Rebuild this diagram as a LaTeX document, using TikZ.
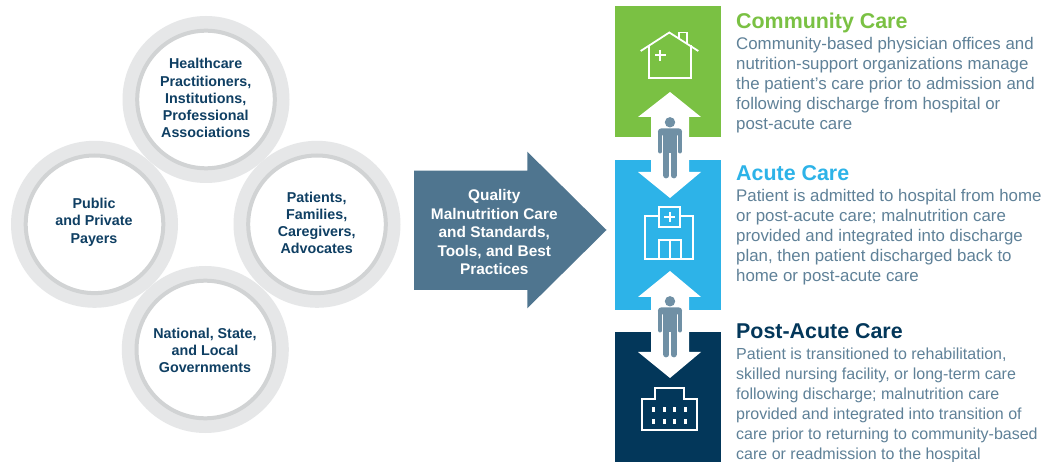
\documentclass[tikz,border=0pt]{standalone}
\usepackage{fontspec}
\setmainfont{Liberation Sans}
\definecolor{cgreen}{HTML}{7AC143}
\definecolor{cblue}{HTML}{2DB3E8}
\definecolor{cnavy}{HTML}{03375A}
\definecolor{carrow}{HTML}{4F758F}
\definecolor{cperson}{HTML}{7090A5}
\definecolor{cbody}{HTML}{5F8198}
\definecolor{ctitle}{HTML}{0F3F63}
\definecolor{chalo}{HTML}{E6E7E8}
\definecolor{cring}{HTML}{D1D3D4}
\tikzset{x=1pt,y=-1pt,
 halo/.style={circle,fill=chalo,minimum size=167pt,inner sep=0pt},
 ringc/.style={circle,fill=white,draw=cring,line width=4pt,minimum size=137.6pt,inner sep=0pt},
 ctext/.style={align=center,inner sep=0pt,text=ctitle,font=\fontsize{14.3}{17.1}\selectfont\bfseries},
 head/.style={anchor=base west,inner sep=0pt,font=\fontsize{21.4}{24}\selectfont\bfseries},
 body/.style={anchor=north west,inner sep=0pt,align=left,text=cbody,font=\fontsize{16.85}{20}\selectfont},
 bodytwo/.style={body,font=\fontsize{16}{20}\selectfont},
 icon/.style={draw=white,line width=1.8pt,fill=none},
 cross/.style={draw=white,line width=2pt},
 man/.style={fill=cperson,draw=none},
 manline/.style={draw=cperson,line cap=round}}
\newcommand{\person}[2]{%
 \begin{scope}[shift={(#1,#2)}]
  \fill[man] (0,-6) circle (5.2);
  \fill[man,rounded corners=3.5pt] (-12.1,7) -- (-12.1,0) -- (12.1,0) -- (12.1,7) -- cycle;
  \fill[man] (-6.8,1) rectangle (6.8,25);
  \draw[manline,line width=4.4pt] (-9.9,4) -- (-9.9,23) (9.9,4) -- (9.9,23);
  \draw[manline,line width=6.2pt] (-3.7,20) -- (-3.7,47) (3.7,20) -- (3.7,47);
 \end{scope}}
\begin{document}
\begin{tikzpicture}
\useasboundingbox (0,0) rectangle (1058,462);
\fill[white] (0,0) rectangle (1058,462);
% circles
\node[halo] (h1) at (206,99.5) {};
\node[halo] (h2) at (94.5,224.3) {};
\node[halo] (h3) at (317,224.3) {};
\node[halo] (h4) at (205.3,349.5) {};
\node[ringc] (c1) at (h1) {};
\node[ringc] (c2) at (h2) {};
\node[ringc] (c3) at (h3) {};
\node[ringc] (c4) at (h4) {};
\node[ctext] (l1) at (205.7,98) {Healthcare\\Practitioners,\\Institutions,\\Professional\\Associations};
\node[ctext] (l2) at (94,222.3) {Public\\and Private\\Payers};
\node[ctext] (l3) at (316.7,222.8) {Patients,\\Families,\\Caregivers,\\Advocates};
\node[ctext] (l4) at (205,350.7) {National, State,\\and Local\\Governments};
% big arrow
\fill[carrow] (414,170.7) -- (527.3,170.7) -- (527.3,151.7) -- (606.5,230) -- (527.3,308.3) -- (527.3,290) -- (414,290) -- cycle;
\node[align=center,inner sep=0pt,text=white,font=\fontsize{15.4}{18.5}\selectfont\bfseries] (q) at (494.3,232) {Quality\\Malnutrition Care\\and Standards,\\Tools, and Best\\Practices};
% blocks
\fill[cgreen] (615,6) rectangle (721,137);
\fill[cblue] (615,160) rectangle (721,310);
\fill[cnavy] (615,332) rectangle (721,462);
% white double arrows
\fill[white] (670,92) -- (701,117) -- (689,117) -- (689,172) -- (701,172) -- (670,198) -- (638,172) -- (651,172) -- (651,117) -- (638,117) -- cycle;
\fill[white] (670,271) -- (701,297) -- (689,297) -- (689,352) -- (701,352) -- (670,378) -- (638,352) -- (651,352) -- (651,297) -- (638,297) -- cycle;
\person{670}{128.3}
\person{670}{307.3}
% house
\draw[icon] (640.7,51) -- (669.3,32.5) -- (698.3,51);
\draw[icon] (649.3,45.5) -- (649.3,77.7) -- (691,77.7) -- (691,45.5);
\draw[icon] (678.7,38.5) -- (678.7,32.5) -- (687.3,32.5) -- (687.3,44);
\draw[cross] (655,55.3) -- (665.5,55.3) (660.3,50) -- (660.3,60.6);
% hospital
\draw[icon] (658.7,216) -- (645,216) -- (645,259.3) -- (693.3,259.3) -- (693.3,216) -- (680,216);
\draw[icon] (658.7,207) rectangle (680,227.3);
\draw[cross] (664.3,217.3) -- (674.7,217.3) (669.5,212.2) -- (669.5,222.4);
\draw[icon] (659.3,259.3) -- (659.3,240) -- (680.7,240) -- (680.7,259.3) (670,240) -- (670,259.3);
% facility
\draw[icon] (642.3,430) -- (642.3,399.3) -- (655,399.3) -- (655,388.3) -- (684,388.3) -- (684,399.3) -- (696.7,399.3) -- (696.7,430) -- cycle;
\foreach \wx in {653.3,664.3,674.3,685.3}\foreach \wy in {409.3,421.3}
  \fill[white] (\wx-1.5,\wy-2.5) rectangle (\wx+1.5,\wy+2.5);
% text
\node[head,text=cgreen] (t1) at (736,28.3) {Community Care};
\node[body] (b1) at (736,37.5) {Community-based physician offices and\\nutrition-support organizations manage\\the patient’s care prior to admission and\\following discharge from hospital or\\post-acute care};
\node[head,text=cblue] (t2) at (736,181) {Acute Care};
\node[body] (b2) at (736,189.5) {Patient is admitted to hospital from home\\or post-acute care; malnutrition care\\provided and integrated into discharge\\plan, then patient discharged back to\\home or post-acute care};
\node[head,text=cnavy] (t3) at (736,338.3) {Post-Acute Care};
\node[bodytwo] (b3) at (736,348) {Patient is transitioned to rehabilitation,\\skilled nursing facility, or long-term care\\following discharge; malnutrition care\\provided and integrated into transition of\\care prior to returning to community-based\\care or readmission to the hospital};
\end{tikzpicture}
\end{document}
